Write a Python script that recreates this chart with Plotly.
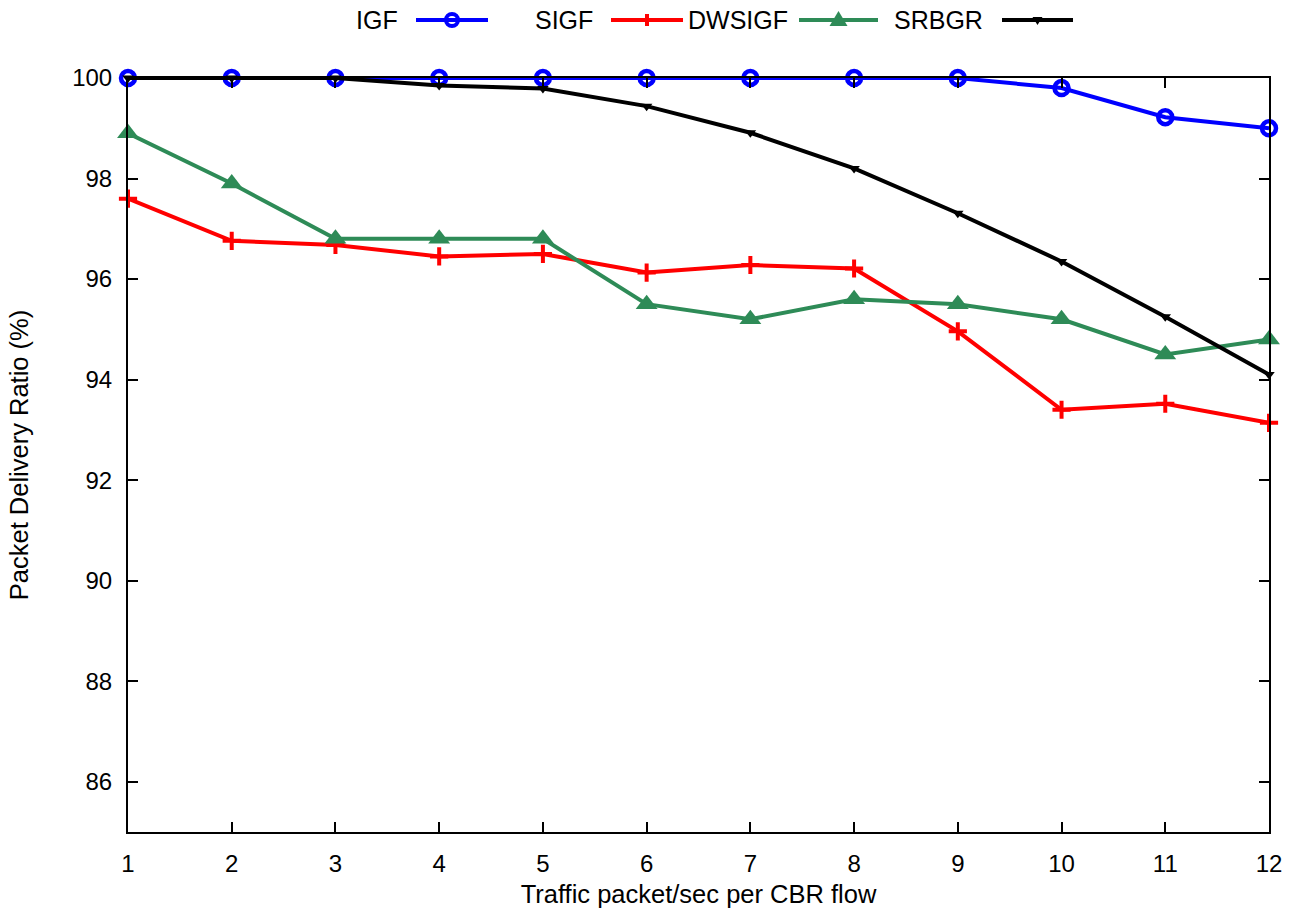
import plotly.graph_objects as go

# ---- data ----
x_vals = [1, 2, 3, 4, 5, 6, 7, 8, 9, 10, 11, 12]
x_ticks = [1, 2, 3, 4, 5, 6, 7, 8, 9, 10, 11, 12]
y_ticks = [86, 88, 90, 92, 94, 96, 98, 100]

igf = [100, 100, 100, 100, 100, 100, 100, 100, 100, 99.8, 99.22, 99.0]
sigf = [97.6, 96.76, 96.68, 96.45, 96.5, 96.13, 96.28, 96.21, 94.96, 93.4, 93.52, 93.14]
dwsigf = [98.9, 97.9, 96.8, 96.8, 96.8, 95.5, 95.2, 95.6, 95.5, 95.2, 94.5, 94.8]
srbgr = [100, 100, 100, 99.85, 99.79, 99.44, 98.91, 98.2, 97.31, 96.35, 95.25, 94.1]

series_names = ["IGF", "SIGF", "DWSIGF", "SRBGR"]
series_data = [igf, sigf, dwsigf, srbgr]
colors = ["#0000ff", "#ff0000", "#2e8b57", "#000000"]

FONT = "Liberation Sans, Arial, Helvetica, sans-serif"
FS = 24
FS_TITLE = 25.5

W, H = 1303, 909
L, R, T, B = 128, 34, 78, 77
PW = W - L - R
PH = H - T - B

fig = go.Figure()

marker_styles = [
    dict(symbol="circle-open", size=14, line=dict(width=4.5, color=colors[0])),
    dict(symbol="cross-thin-open", size=13, line=dict(width=4, color=colors[1])),
    dict(symbol="triangle-up", size=19, color=colors[2], line=dict(width=0)),
    dict(symbol="triangle-down", size=10, color=colors[3], line=dict(width=0)),
]

for name, ys, col, mk in zip(series_names, series_data, colors, marker_styles):
    m = dict(mk)
    m.setdefault("color", col)
    fig.add_trace(go.Scatter(
        x=x_vals, y=ys, name=name, mode="lines+markers",
        line=dict(color=col, width=4),
        marker=m, cliponaxis=False, showlegend=False,
    ))

# ---- gnuplot-style legend (label, then line sample) ----
def px2paper_x(px):
    return (px - L) / PW

def px2paper_y(py):
    return (H - B - py) / PH

legend_y = 20
label_right = [400, 595, 790, 985]
sample_x = [(416, 488), (611, 683), (799, 878), (1002, 1073)]

shapes = []
annotations = []
for i, name in enumerate(series_names):
    annotations.append(dict(
        x=px2paper_x(label_right[i]), y=px2paper_y(legend_y), xref="paper", yref="paper",
        text=name, showarrow=False, xanchor="right", yanchor="middle",
        font=dict(family=FONT, size=25, color="black"),
    ))
    x0, x1 = sample_x[i]
    shapes.append(dict(
        type="line", xref="paper", yref="paper",
        x0=px2paper_x(x0), x1=px2paper_x(x1),
        y0=px2paper_y(legend_y), y1=px2paper_y(legend_y),
        line=dict(color=colors[i], width=4),
    ))
    xc = px2paper_x((x0 + x1) / 2)
    yc = px2paper_y(legend_y)
    base = dict(xref="paper", yref="paper", xsizemode="pixel", ysizemode="pixel",
                xanchor=xc, yanchor=yc)
    if i == 0:
        shapes.append(dict(base, type="circle", x0=-6, x1=6, y0=-6, y1=6,
                           line=dict(color=colors[0], width=4),
                           fillcolor="rgba(0,0,0,0)"))
    elif i == 1:
        shapes.append(dict(base, type="path", path="M0,-6 L0,6",
                           line=dict(color=colors[1], width=4)))
    elif i == 2:
        shapes.append(dict(base, type="path", path="M-9,-6 L9,-6 L0,9 Z",
                           line=dict(color=colors[2], width=0), fillcolor=colors[2]))
    else:
        shapes.append(dict(base, type="path", path="M-5,3 L5,3 L0,-5 Z",
                           line=dict(color=colors[3], width=0), fillcolor=colors[3]))

fig.update_layout(
    width=W, height=H,
    margin=dict(l=L, r=R, t=T, b=B, autoexpand=False),
    paper_bgcolor="white", plot_bgcolor="white",
    font=dict(family=FONT, size=FS, color="black"),
    shapes=shapes, annotations=annotations,
    showlegend=False,
)

fig.update_xaxes(
    range=[1, 12], tickvals=x_ticks, ticktext=[str(v) for v in x_ticks],
    ticks="inside", ticklen=10, tickwidth=1.5, tickcolor="black",
    showline=True, linewidth=2, linecolor="black", mirror="allticks",
    showgrid=False, zeroline=False, ticklabelstandoff=9,
    tickfont=dict(family=FONT, size=FS),
    title=dict(text="Traffic packet/sec per CBR flow", standoff=9,
               font=dict(family=FONT, size=FS_TITLE)),
)
fig.update_yaxes(
    range=[85, 100], tickvals=y_ticks, ticktext=[str(v) for v in y_ticks],
    ticks="inside", ticklen=10, tickwidth=1.5, tickcolor="black",
    showline=True, linewidth=2, linecolor="black", mirror="allticks",
    showgrid=False, zeroline=False, ticklabelstandoff=9,
    tickfont=dict(family=FONT, size=FS),
    title=dict(text="Packet Delivery Ratio (%)", standoff=36,
               font=dict(family=FONT, size=FS_TITLE)),
)

fig.write_html("out.html")
